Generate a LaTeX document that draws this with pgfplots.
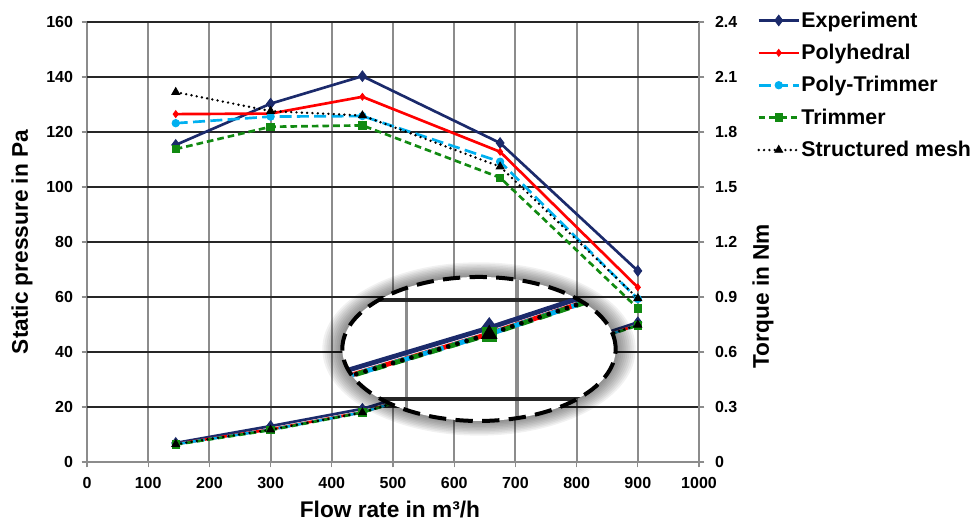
\documentclass[border=0pt]{standalone}
\usepackage{fontspec}
\setmainfont{Liberation Sans}
\usepackage{pgfplots}
\pgfplotsset{compat=1.18}

\definecolor{cExp}{HTML}{1B2A6B}
\definecolor{cPoly}{HTML}{FF0000}
\definecolor{cPT}{HTML}{00B0F0}
\definecolor{cTrim}{HTML}{118A11}
\definecolor{cGrid}{HTML}{8C8C8C}

\pgfplotsset{
  exp/.style={cExp, line width=2pt, mark=diamond*, mark size=4pt, mark options={solid, line width=0.6pt}},
  polyh/.style={cPoly, line width=2pt, mark=diamond*, mark size=2.6pt, mark options={solid, line width=0.6pt}},
  polytr/.style={cPT, line width=2pt, dash pattern=on 9pt off 4pt, mark=*, mark size=2.8pt, mark options={solid, line width=0.6pt}},
  trim/.style={cTrim, line width=2pt, dash pattern=on 5pt off 3pt, mark=square*, mark size=2.8pt, mark options={solid, line width=0.6pt}},
  struct/.style={black, line width=2pt, line cap=round, dash pattern=on 0pt off 4pt, mark=triangle*, mark size=3.4pt, mark options={solid, line width=0.6pt}},
  base/.style={width=459pt, height=330pt, scale only axis, xmin=0, xmax=1000,
    xtick={0,100,...,1000},
    tick label style={font=\fontsize{12}{13}\selectfont\bfseries},
    /pgf/number format/assume math mode=true,
    /pgf/number format/1000 sep={},
    tick align=outside, major tick length=4pt, tick style={cGrid, line width=1pt},
    axis line style={-, cGrid, line width=1.5pt}},
  torque/.style={ymin=0, ymax=2.4, ytick={0,0.3,0.6,0.9,1.2,1.5,1.8,2.1,2.4}},
}

\begin{document}
\begin{tikzpicture}
\useasboundingbox (-65.25pt,-46.5pt) rectangle (665.25pt,346.5pt);

\begin{axis}[base, ymin=0, ymax=160, ytick={0,20,...,160},
    axis x line*=bottom, axis y line*=left,
    xmajorgrids, x grid style={cGrid, line width=1.5pt},
    extra y ticks={20,40,...,160}, extra y tick labels={},
    extra y tick style={ymajorgrids, major tick length=0pt, y grid style={black!85, line width=1.5pt}},
    xticklabel style={yshift=-4pt},
    yticklabel style={xshift=-3pt},
    xlabel={Flow rate in m³/h}, ylabel={Static pressure in Pa},
    every axis x label/.style={at={(axis description cs:0.495,-0.107)}, anchor=center,
      font=\fontsize{17}{18}\selectfont\bfseries},
    every axis y label/.style={at={(axis description cs:-0.106,0.5)}, rotate=90, anchor=center,
      font=\fontsize{17}{18}\selectfont\bfseries},
    legend style={at={(1.095,1.027)}, anchor=north west, draw=none, fill=none,
      font=\fontsize{16}{16}\selectfont\bfseries, row sep=9.2pt, inner sep=0pt,
      nodes={inner sep=1pt}},
    legend cell align=left,
    legend image code/.code={\draw[mark repeat=2, mark phase=2, #1] plot coordinates {(0pt,0pt) (15pt,0pt) (30pt,0pt)};},
  ]
  \addplot[exp] coordinates {(145,115.3) (300,130.3) (450,140.3) (675,116) (900,69.5)};
  \addlegendentry{Experiment}
  \addplot[polyh] coordinates {(145,126.5) (300,126.7) (450,132.8) (675,112.8) (900,63.5)};
  \addlegendentry{Polyhedral}
  \addplot[polytr] coordinates {(145,123.2) (300,125.6) (450,125.8) (675,109.2) (900,59.3)};
  \addlegendentry{Poly-Trimmer}
  \addplot[trim] coordinates {(145,113.8) (300,121.9) (450,122.4) (675,103.4) (900,55.9)};
  \addlegendentry{Trimmer}
  \addplot[struct] coordinates {(145,134.5) (300,127.6) (450,126) (675,107.4) (900,59.5)};
  \addlegendentry{Structured mesh}
  \coordinate (lens) at (axis cs:640.5,41.1);
\end{axis}

\begin{axis}[base, torque,
    yticklabels={0,0.3,0.6,0.9,1.2,1.5,1.8,2.1,2.4},
    yticklabel style={xshift=4.5pt},
    axis y line*=right, axis x line=none,
    ylabel={Torque in Nm},
    every axis y label/.style={at={(axis description cs:1.1046,0.377)}, rotate=90, anchor=center,
      font=\fontsize{17}{18}\selectfont\bfseries},
  ]
  \addplot[exp] coordinates {(145,0.104) (300,0.196) (450,0.290) (675,0.515) (900,0.762)};
  \addplot[polyh] coordinates {(145,0.098) (300,0.178) (450,0.272) (675,0.497) (900,0.748)};
  \addplot[polytr] coordinates {(145,0.097) (300,0.176) (450,0.271) (675,0.496) (900,0.747)};
  \addplot[trim] coordinates {(145,0.095) (300,0.174) (450,0.270) (675,0.495) (900,0.745)};
  \addplot[struct] coordinates {(145,0.097) (300,0.176) (450,0.270) (675,0.496) (900,0.748)};
\end{axis}

% magnifying lens: soft halo, white body, 1.8x copy of the torque curves
\foreach \k in {10,9,...,1}
  \fill[black, opacity=0.055] (lens) ellipse ({102.5pt+1.5pt*\k} and {54pt+1.1pt*\k});
\fill[white] (lens) ellipse (102.5pt and 54pt);
\begin{scope}
  \clip (lens) ellipse (102.5pt and 54pt);
  \begin{scope}[transform canvas={shift={(-256pt,-26.85pt)}, scale=1.8}]
    \begin{axis}[base, torque, grid=major,
        x grid style={cGrid, line width=1.5pt}, y grid style={black!85, line width=1.5pt},
        xticklabels={}, yticklabels={}, major tick length=0pt, axis line style={draw=none}]
      \addplot[exp] coordinates {(145,0.104) (300,0.196) (450,0.290) (675,0.515) (900,0.762)};
      \addplot[polyh] coordinates {(145,0.098) (300,0.178) (450,0.272) (675,0.497) (900,0.748)};
      \addplot[polytr] coordinates {(145,0.097) (300,0.176) (450,0.271) (675,0.496) (900,0.747)};
      \addplot[trim] coordinates {(145,0.095) (300,0.174) (450,0.270) (675,0.495) (900,0.745)};
      \addplot[struct] coordinates {(145,0.097) (300,0.176) (450,0.270) (675,0.496) (900,0.748)};
    \end{axis}
  \end{scope}
\end{scope}
\draw[black, line width=3pt, dash pattern=on 13pt off 7pt] (lens) ellipse (102.5pt and 54pt);
\end{tikzpicture}
\end{document}
